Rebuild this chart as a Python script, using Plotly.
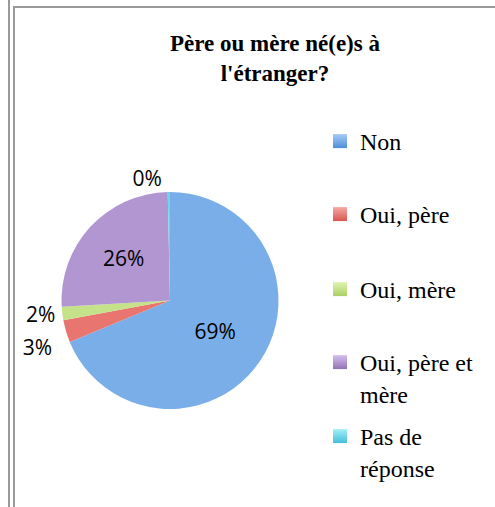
import plotly.graph_objects as go

# ---- data ----
labels = ["Non", "Oui, père", "Oui, mère", "Oui, père et mère", "Pas de réponse"]
legend_text = ["Non", "Oui, père", "Oui, mère", "Oui, père et<br>mère", "Pas de<br>réponse"]
counts = [207, 10, 6, 77, 1]
slice_colors = ["#7aaee9", "#e8756f", "#c5e28a", "#b196d2", "#6fd5ea"]
grad_top = ["#a6cbf6", "#f6a9a4", "#e0f5b0", "#d4c0ec", "#a4eef8"]
grad_bottom = ["#4d8fd8", "#d9554f", "#aacf66", "#9272b8", "#43c0da"]
# main label layer and a second label layer (for the 3% label, avoids overlap)
text_pos_main = ["inside", "none", "outside", "inside", "outside"]
text_pos_extra = ["none", "outside", "none", "none", "none"]
title_text = "Père ou mère né(e)s à<br>l'étranger?"

W, H = 495, 507
pie_domain = dict(x=[61 / W, 279 / W], y=[(H - 409) / H, (H - 192) / H])
pct_font = dict(family="Open Sans", size=21, color="black")

fig = go.Figure()
fig.add_trace(go.Pie(
    labels=labels, values=counts, sort=False, direction="clockwise", rotation=0,
    marker=dict(colors=slice_colors, line=dict(width=0)),
    texttemplate="%{percent:.0%}", textposition=text_pos_main,
    insidetextorientation="horizontal",
    textfont=pct_font, showlegend=False, hoverinfo="label+percent",
    domain=pie_domain,
))
fig.add_trace(go.Pie(
    labels=labels, values=counts, sort=False, direction="clockwise", rotation=0,
    marker=dict(colors=["rgba(0,0,0,0)"] * len(labels), line=dict(width=0)),
    texttemplate="<span style='color:rgba(0,0,0,0)'>.</span><br>%{percent:.0%}",
    textposition=text_pos_extra,
    textfont=pct_font, showlegend=False, hoverinfo="skip",
    domain=pie_domain,
))

# legend entries (one legend per entry for even spacing, as in the reference)
legend_tops = [119, 192, 267, 340, 414]
layout_legends = {}
for i, txt in enumerate(legend_text):
    key = "legend" if i == 0 else f"legend{i + 1}"
    fig.add_trace(go.Scatter(
        x=[None], y=[None], mode="markers", name=txt, legend=key,
        marker=dict(symbol="square", size=14, color=grad_top[i],
                    gradient=dict(type="vertical", color=grad_bottom[i]),
                    line=dict(width=0)),
        hoverinfo="skip",
    ))
    layout_legends[key] = dict(
        x=320 / W, xanchor="left", y=1 - legend_tops[i] / H, yanchor="top",
        font=dict(family="Liberation Serif", size=24, color="black"),
        bgcolor="rgba(0,0,0,0)", borderwidth=0, valign="top",
    )

frame = dict(type="line", xref="paper", yref="paper", line=dict(color="#9a9a9a", width=2))
fig.update_layout(
    width=W, height=H,
    margin=dict(l=0, r=0, t=0, b=0),
    paper_bgcolor="white", plot_bgcolor="white",
    title=dict(text=title_text, x=275 / W, xanchor="center", y=1 - 51 / H, yanchor="top",
               font=dict(family="Liberation Serif", size=23, color="black", weight="bold")),
    xaxis=dict(visible=False), yaxis=dict(visible=False),
    shapes=[
        dict(frame, x0=9 / W, x1=9 / W, y0=0, y1=1),
        dict(frame, x0=14 / W, x1=14 / W, y0=0, y1=1 - 6 / H),
        dict(frame, x0=13 / W, x1=1, y0=1 - 7 / H, y1=1 - 7 / H),
    ],
    **layout_legends,
)

fig.write_html("out.html", config={"displayModeBar": False},
               post_script="document.body.style.margin='0';")
